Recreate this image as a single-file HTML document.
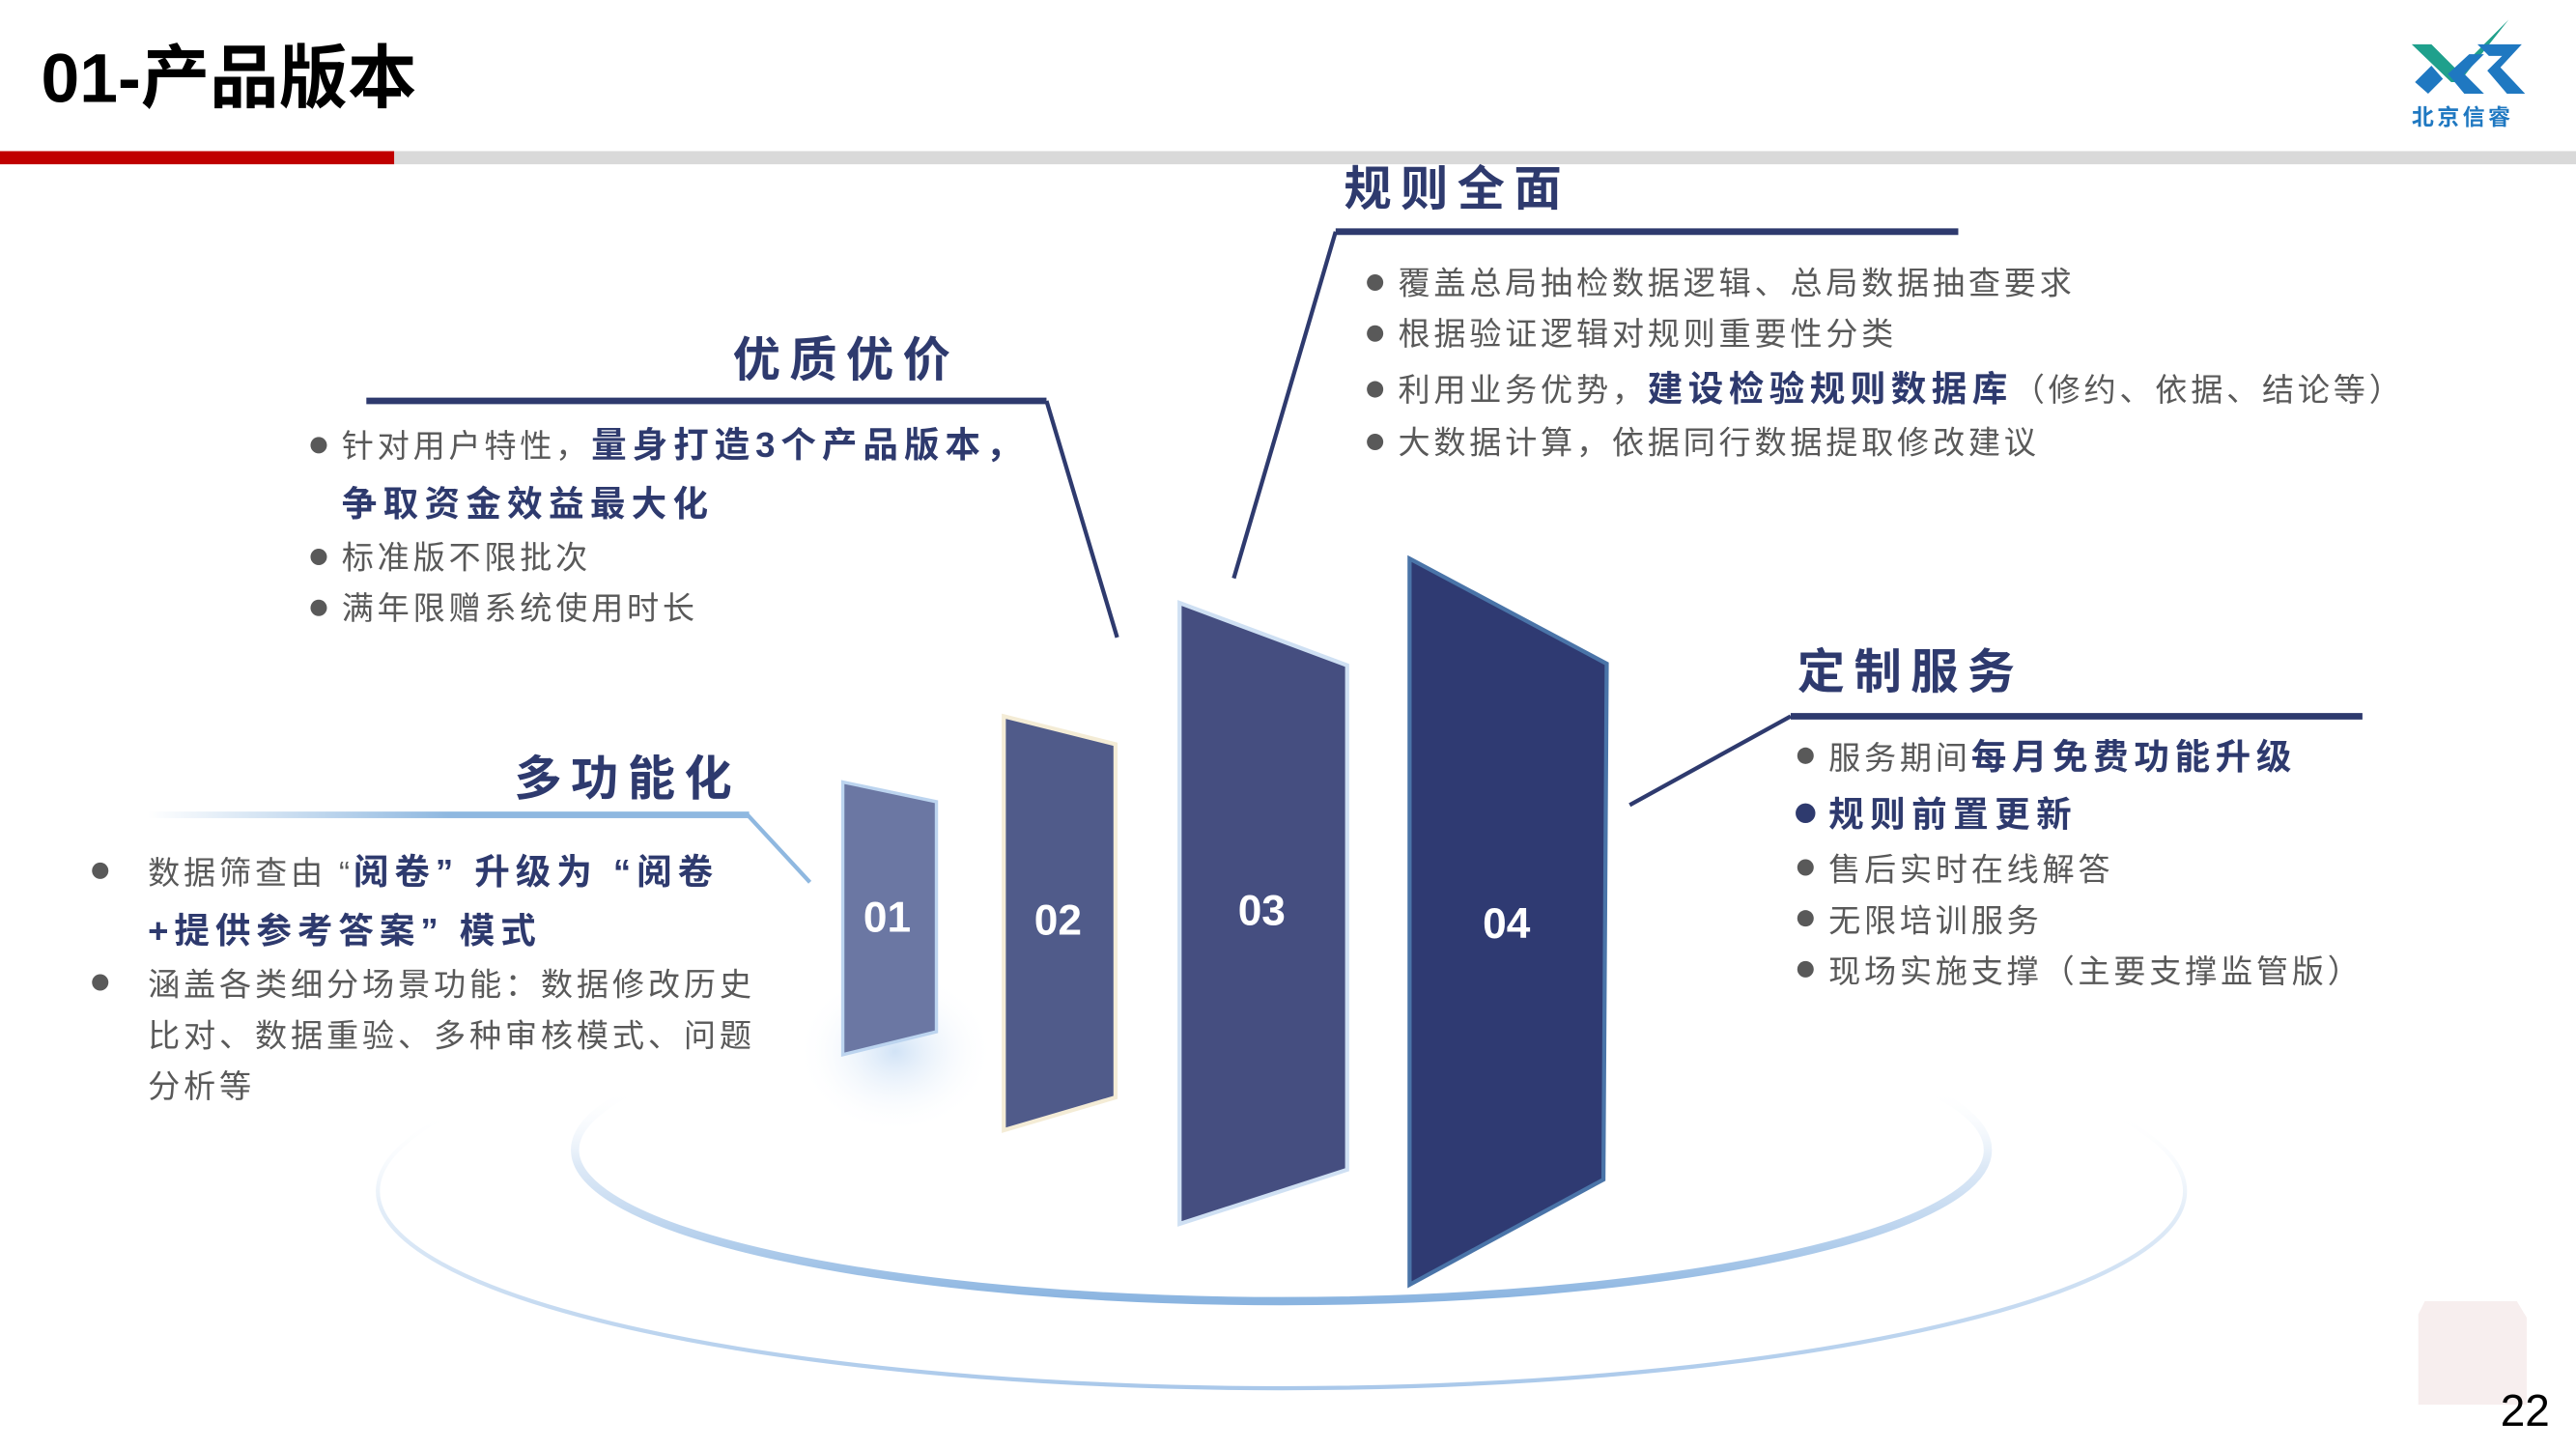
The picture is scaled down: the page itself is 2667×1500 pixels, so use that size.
<!DOCTYPE html>
<html><head><meta charset="utf-8">
<style>
html,body{margin:0;padding:0;background:#fff;}
svg{display:block;}
text{font-family:"Liberation Sans","Noto Sans CJK SC",sans-serif;}
</style></head>
<body>
<svg width="2667" height="1500" viewBox="0 0 1568 882" preserveAspectRatio="none" xmlns="http://www.w3.org/2000/svg">
<defs>
  <linearGradient id="lb" x1="0" y1="0" x2="1" y2="0">
    <stop offset="0" stop-color="#8fb8e0" stop-opacity="0"/>
    <stop offset="0.5" stop-color="#8fb8e0"/>
    <stop offset="1" stop-color="#8fb8e0"/>
  </linearGradient>
  <linearGradient id="inner" x1="0" y1="0" x2="0" y2="1">
    <stop offset="0" stop-color="#ffffff" stop-opacity="0"/>
    <stop offset="0.3" stop-color="#ffffff" stop-opacity="0"/>
    <stop offset="0.55" stop-color="#cfe0f3" stop-opacity="0.7"/>
    <stop offset="0.8" stop-color="#b4cfec"/>
    <stop offset="1" stop-color="#8ab4e0"/>
  </linearGradient>
  <linearGradient id="outer" x1="0" y1="0" x2="0" y2="1">
    <stop offset="0" stop-color="#ffffff" stop-opacity="0"/>
    <stop offset="0.3" stop-color="#ffffff" stop-opacity="0"/>
    <stop offset="0.55" stop-color="#dbe8f6" stop-opacity="0.8"/>
    <stop offset="1" stop-color="#a9c8ea"/>
  </linearGradient>
  <radialGradient id="glow" cx="0.5" cy="0.5" r="0.5">
    <stop offset="0" stop-color="#c6dcf4" stop-opacity="0.8"/>
    <stop offset="1" stop-color="#ffffff" stop-opacity="0"/>
  </radialGradient>
</defs>

<!-- header -->
<text x="25" y="62" font-size="42" font-weight="bold" fill="#000">01-产品版本</text>
<rect x="0" y="92" width="240" height="8" fill="#c00000"/>
<rect x="240" y="92" width="1328" height="8" fill="#d9d9d9"/>

<!-- logo -->
<polygon points="1468,27 1480,27 1496,43 1527,12 1497,50 1492,50" fill="#1fa08c"/>
<polygon points="1470,50 1480,40 1487,48 1478,57" fill="#1f78c1"/>
<polygon points="1490,45 1503,33 1512,33 1500,45 1512,57 1500,57" fill="#1f78c1"/>
<polygon points="1508,27 1535,27 1522,41 1537,57 1526,57 1514,43 1523,34 1515,34" fill="#1f78c1"/>
<text x="1468" y="76" font-size="13.5" font-weight="bold" fill="#1f78c1" letter-spacing="2">北京信睿</text>

<!-- ellipses -->
<ellipse cx="780" cy="725" rx="550" ry="120" fill="none" stroke="url(#outer)" stroke-width="2.5"/>
<ellipse cx="780" cy="700" rx="430" ry="92" fill="none" stroke="url(#inner)" stroke-width="5"/>
<ellipse cx="545" cy="640" rx="60" ry="50" fill="url(#glow)"/>

<!-- panels -->
<polygon points="513,476 570,488 570,628 513,642" fill="#6b77a3" stroke="#bcd4ef" stroke-width="2"/>
<polygon points="611,436 679,453 679,668 611,688" fill="#505b8a" stroke="#f4ecd6" stroke-width="2.5"/>
<polygon points="718,367 820,405 820,712 718,745" fill="#454e80" stroke="#cfe0f3" stroke-width="2.5"/>
<polygon points="858,340 978,404 976,718 858,782" fill="#2f3a72" stroke="#4a74a8" stroke-width="2.5"/>
<g font-size="26" font-weight="bold" fill="#fff" text-anchor="middle">
<text x="540" y="567">01</text>
<text x="644" y="569">02</text>
<text x="768" y="563">03</text>
<text x="917" y="571">04</text>
</g>

<!-- connectors -->
<line x1="813" y1="141" x2="1192" y2="141" stroke="#2e3a6e" stroke-width="4"/>
<line x1="813" y1="141" x2="751" y2="352" stroke="#2e3a6e" stroke-width="2.5"/>
<line x1="223" y1="244" x2="637" y2="244" stroke="#2e3a6e" stroke-width="4"/>
<line x1="637" y1="244" x2="680" y2="388" stroke="#2e3a6e" stroke-width="2.5"/>
<rect x="90" y="494" width="366" height="4" fill="url(#lb)"/>
<line x1="455" y1="496" x2="493" y2="537" stroke="#8fb8e0" stroke-width="2.5"/>
<line x1="1090" y1="436" x2="1438" y2="436" stroke="#2e3a6e" stroke-width="4"/>
<line x1="1090" y1="436" x2="992" y2="490" stroke="#2e3a6e" stroke-width="2.5"/>

<!-- headings -->
<g font-size="29" font-weight="bold" fill="#2e3a6e" letter-spacing="5.5">
<text x="818" y="125">规则全面</text>
<text x="446" y="229">优质优价</text>
<text x="313" y="484">多功能化</text>
<text x="1094" y="419">定制服务</text>
</g>

<!-- top-right bullets -->
<g font-size="19.5" fill="#595959" letter-spacing="2.2">
<circle cx="837" cy="172" r="5" fill="#595959"/>
<text x="851" y="179">覆盖总局抽检数据逻辑、总局数据抽查要求</text>
<circle cx="837" cy="203" r="5" fill="#595959"/>
<text x="851" y="210">根据验证逻辑对规则重要性分类</text>
<circle cx="837" cy="237" r="5" fill="#595959"/>
<text x="851" y="244">利用业务优势，<tspan font-weight="bold" fill="#2e3a6e" font-size="21.5" letter-spacing="3.2">建设检验规则数据库</tspan>（修约、依据、结论等）</text>
<circle cx="837" cy="269" r="5" fill="#595959"/>
<text x="851" y="276">大数据计算，依据同行数据提取修改建议</text>
</g>

<!-- middle-left bullets -->
<g font-size="19.5" fill="#595959" letter-spacing="2.2">
<circle cx="194" cy="271" r="5" fill="#595959"/>
<text x="208" y="278">针对用户特性，<tspan font-weight="bold" fill="#2e3a6e" font-size="21.5" letter-spacing="3.5">量身打造3个产品版本，</tspan></text>
<text x="208" y="314" font-weight="bold" fill="#2e3a6e" font-size="21.5" letter-spacing="3.7">争取资金效益最大化</text>
<circle cx="194" cy="339" r="5" fill="#595959"/>
<text x="208" y="346">标准版不限批次</text>
<circle cx="194" cy="370" r="5" fill="#595959"/>
<text x="208" y="377">满年限赠系统使用时长</text>
</g>

<!-- left bullets -->
<g font-size="19.5" fill="#595959" letter-spacing="2.25">
<circle cx="61" cy="530" r="5" fill="#595959"/>
<text x="90" y="538">数据筛查由 “<tspan font-weight="bold" fill="#2e3a6e" font-size="21.5" letter-spacing="3.5">阅卷” 升级为 “阅卷</tspan></text>
<text x="90" y="574" font-weight="bold" fill="#2e3a6e" font-size="21.5" letter-spacing="3.5">+提供参考答案” 模式</text>
<circle cx="61" cy="598" r="5" fill="#595959"/>
<text x="90" y="606">涵盖各类细分场景功能：数据修改历史</text>
<text x="90" y="637">比对、数据重验、多种审核模式、问题</text>
<text x="90" y="668">分析等</text>
</g>

<!-- right bullets -->
<g font-size="19.5" fill="#595959" letter-spacing="2.2">
<circle cx="1099" cy="460" r="5" fill="#595959"/>
<text x="1113" y="468">服务期间<tspan font-weight="bold" fill="#2e3a6e" font-size="21.5" letter-spacing="3.3">每月免费功能升级</tspan></text>
<circle cx="1099" cy="495" r="6" fill="#2e3a6e"/>
<text x="1113" y="503" font-weight="bold" fill="#2e3a6e" font-size="21.5" letter-spacing="3.8">规则前置更新</text>
<circle cx="1099" cy="528" r="5" fill="#595959"/>
<text x="1113" y="536">售后实时在线解答</text>
<circle cx="1099" cy="559" r="5" fill="#595959"/>
<text x="1113" y="567">无限培训服务</text>
<circle cx="1099" cy="590" r="5" fill="#595959"/>
<text x="1113" y="598">现场实施支撑（主要支撑监管版）</text>
</g>

<!-- page number -->
<polygon points="1476,792 1532,792 1538,802 1538,855 1472,855 1472,800" fill="#f7eeee"/>
<text x="1522" y="868" font-size="27" fill="#000">22</text>
</svg>
</body></html>
